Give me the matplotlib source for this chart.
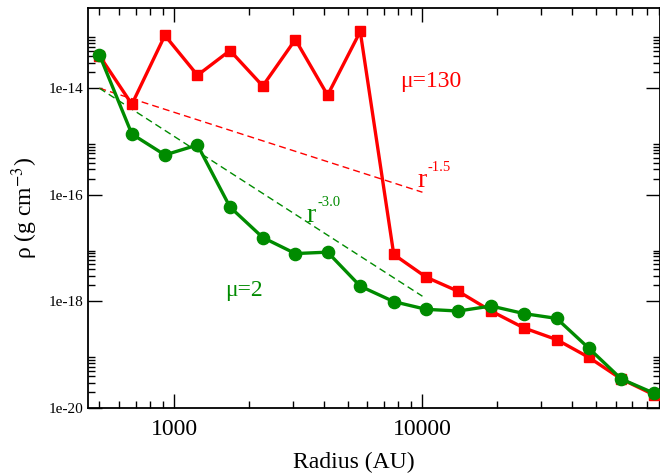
import matplotlib
matplotlib.use("Agg")
import matplotlib.pyplot as plt
from matplotlib.ticker import LogLocator, FixedLocator, FuncFormatter, NullFormatter
import numpy as np

plt.rcParams['font.family'] = ['Liberation Serif', 'DejaVu Serif']
plt.rcParams['mathtext.fontset'] = 'stix'

radius = [500, 676, 918, 1242, 1679, 2275, 3078, 4150, 5617, 7665,
          10350, 13960, 18900, 25650, 34700, 46800, 63200, 85500]
rho_mu130 = [4.1e-14, 5.0e-15, 9.8e-14, 1.75e-14, 5.1e-14, 1.1e-14, 8.2e-14, 7.4e-15, 1.16e-13, 7.6e-18,
             2.85e-18, 1.54e-18, 6.6e-19, 3.17e-19, 1.92e-19, 8.9e-20, 3.5e-20, 1.77e-20]
rho_mu2 = [4.26e-14, 1.38e-15, 5.6e-16, 8.6e-16, 5.9e-17, 1.58e-17, 7.9e-18, 8.4e-18, 1.93e-18, 9.9e-19,
           7.1e-19, 6.6e-19, 8.2e-19, 5.9e-19, 4.8e-19, 1.32e-19, 3.5e-20, 1.9e-20]

ref_r = [500, 10000]
ref_rho0 = 1e-14
slope_red = -1.5
slope_green = -3.0

xticks_major = [1000, 10000]
yticks_major = [1e-20, 1e-18, 1e-16, 1e-14]

red = '#ff0000'
green = '#008b00'

fig = plt.figure(figsize=(6.6, 4.73), dpi=100)
ax = fig.add_axes([88/660, 1-408/473, (660-88)/660, 400/473])

ax.set_xscale('log')
ax.set_yscale('log')
ax.set_xlim(450, 90500)
ax.set_ylim(1e-20, 3.2e-13)

rr = np.array(ref_r, dtype=float)
ax.plot(rr, ref_rho0 * (rr / ref_r[0]) ** slope_red, '--', color=red, lw=1.0, dashes=(5, 3))
ax.plot(rr, ref_rho0 * (rr / ref_r[0]) ** slope_green, '--', color=green, lw=1.0, dashes=(5, 3))

ax.plot(radius, rho_mu130, '-', color=red, lw=2.4, marker='s', ms=7.8, mec=red, mfc=red, zorder=3)
ax.plot(radius, rho_mu2, '-', color=green, lw=2.4, marker='o', ms=8.8, mec=green, mfc=green, zorder=4)

ax.xaxis.set_major_locator(FixedLocator(xticks_major))
ax.xaxis.set_minor_locator(LogLocator(base=10, subs=np.arange(2, 10)))
ax.xaxis.set_major_formatter(FuncFormatter(lambda v, p: f"{int(round(v))}"))
ax.xaxis.set_minor_formatter(NullFormatter())

ax.yaxis.set_major_locator(FixedLocator(yticks_major))
ax.yaxis.set_minor_locator(LogLocator(base=100, subs=np.arange(2, 10)))
ax.yaxis.set_major_formatter(FuncFormatter(lambda v, p: f"1e{int(round(np.log10(v)))}"))
ax.yaxis.set_minor_formatter(NullFormatter())

ax.tick_params(which='both', direction='in', top=True, right=True, width=1.0)
ax.tick_params(which='major', length=10)
ax.tick_params(which='minor', length=5)
ax.tick_params(axis='x', which='major', labelsize=17, pad=8)
ax.tick_params(axis='y', which='major', labelsize=11, pad=3)
for s in ax.spines.values():
    s.set_linewidth(1.3)

ax.set_xlabel('Radius (AU)', fontsize=17)
ax.xaxis.set_label_coords((354-88)/572, -44/400)
ax.set_ylabel('ρ (g cm$^{-3}$)', fontsize=17)
ax.yaxis.set_label_coords(-48/572, 0.5)

def px(x, y):
    return (x / 660, 1 - y / 473)

fig.text(*px(400, 87), 'μ=130', fontsize=17, color=red, va='baseline', ha='left')
fig.text(*px(225, 296), 'μ=2', fontsize=17, color=green, va='baseline', ha='left')

fig.text(*px(417, 187), 'r', fontsize=20, color=red, va='baseline', ha='left')
fig.text(*px(428, 171), '-1.5', fontsize=10.5, color=red, va='baseline', ha='left')
fig.text(*px(306, 222), 'r', fontsize=20, color=green, va='baseline', ha='left')
fig.text(*px(317, 206), '-3.0', fontsize=10.5, color=green, va='baseline', ha='left')

fig.savefig('out.png', dpi=100)
